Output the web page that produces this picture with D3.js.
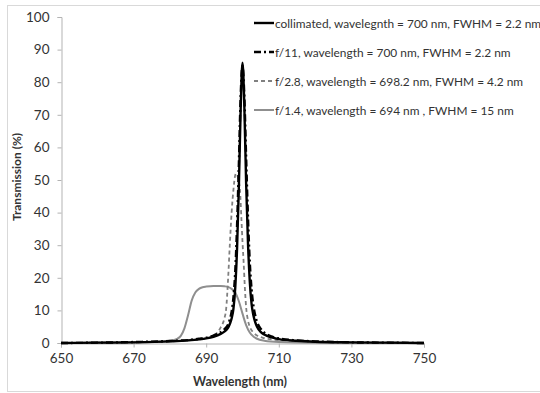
<!DOCTYPE html>
<html>
<head>
<meta charset="utf-8">
<script src="https://cdn.jsdelivr.net/npm/d3@7"></script>
<style>
  html, body { margin: 0; padding: 0; background: #fff; }
  svg { display: block; }
  text { font-family: Lato, "Open Sans", sans-serif; fill: #333; }
</style>
</head>
<body>
<svg id="chart" width="540" height="393"></svg>
<script>
// Transmission spectra (wavelength nm, transmission %)
const collimated = [
  [650,0],[660,0.1],[670,0.2],[680,0.5],[685,0.8],[688,1.1],[690,1.4],[692,1.9],[694,2.8],[695,3.5],
  [696,4.6],[696.5,5.8],[697,7.5],[697.5,10.5],[698,17],[698.5,29],[699,48],[699.5,72],[700,86],
  [700.5,73],[701,49],[701.5,31],[702,19],[702.5,12],[703,8.5],[703.5,6.4],[704,5],[705,3.4],
  [706,2.6],[708,1.7],[710,1.2],[715,0.7],[720,0.4],[730,0.2],[740,0.1],[750,0]
];
const f11 = [
  [650,0],[660,0.1],[670,0.3],[680,0.6],[685,0.9],[688,1.3],[690,1.6],[692,2.3],[694,3.3],[695,4.2],
  [696,5.6],[696.5,7.2],[697,9.6],[697.5,14],[698,22],[698.5,36],[699,55],[699.5,76],[700,85],
  [700.5,76],[701,57],[701.5,39],[702,25],[702.5,16.5],[703,11.5],[703.5,8.5],[704,6.5],[705,4.4],
  [706,3.2],[708,2.0],[710,1.4],[715,0.8],[720,0.5],[730,0.2],[740,0.1],[750,0]
];
const f28 = [
  [650,0],[660,0.1],[670,0.2],[680,0.5],[685,0.8],[688,1.1],[690,1.4],[692,2.3],[693,3.1],[694,4.8],
  [695,7.5],[695.5,10.5],[696,19],[696.5,30],[697,40],[697.5,47],[698,51.5],[698.2,52],[698.7,51],
  [699,49.5],[699.3,47],[699.7,38],[700,31],[700.3,25],[700.7,16],[701,11],[701.5,7],[702,5],
  [703,3.2],[704,2.3],[706,1.5],[710,0.9],[715,0.5],[720,0.3],[730,0.2],[750,0]
];
const f14 = [
  [650,0],[660,0.1],[670,0.2],[675,0.3],[680,0.7],[682,1.3],[683,2.2],[684,4.5],[685,8.5],[686,13],
  [687,15.5],[688,16.6],[689,17.1],[690,17.3],[692,17.5],[694,17.5],[695,17.4],[696,17.2],[697,16.6],
  [698,15.5],[699,12.8],[700,9],[701,5.5],[702,3.2],[703,2],[704,1.3],[706,0.7],[710,0.3],[720,0.1],[750,0]
];

const xTicks = [650, 670, 690, 710, 730, 750];
const yTicks = [0, 10, 20, 30, 40, 50, 60, 70, 80, 90, 100];

const seriesNames = [
  "collimated, wavelegnth = 700 nm, FWHM = 2.2 nm",
  "f/11, wavelength = 700 nm, FWHM = 2.2 nm",
  "f/2.8, wavelength = 698.2 nm, FWHM = 4.2 nm",
  "f/1.4, wavelength = 694 nm , FWHM = 15 nm"
];

const series = [
  { name: seriesNames[0], data: collimated, color: "#000", width: 2.4, dash: null },
  { name: seriesNames[1], data: f11, color: "#000", width: 2.4, dash: "7,3,2,3" },
  { name: seriesNames[2], data: f28, color: "#808080", width: 1.8, dash: "4,3" },
  { name: seriesNames[3], data: f14, color: "#8f8f8f", width: 2.0, dash: null }
];

const svg = d3.select("#chart");

// chart frame
svg.append("rect")
  .attr("x", 7.5).attr("y", 5.5).attr("width", 540).attr("height", 386)
  .attr("fill", "#fff").attr("stroke", "#d9d9d9").attr("stroke-width", 1);

const x = d3.scaleLinear().domain([650, 750]).range([61, 424]);
const y = d3.scaleLinear().domain([0, 100]).range([343, 17]);

const axisColor = "#b3b3b3";

const yAxis = svg.append("g")
  .attr("transform", "translate(61.5,0)")
  .call(d3.axisLeft(y).tickValues(yTicks).tickSize(4).tickPadding(8));
const xAxis = svg.append("g")
  .attr("transform", "translate(0,343.5)")
  .call(d3.axisBottom(x).tickValues(xTicks).tickSize(4).tickPadding(6));

[xAxis, yAxis].forEach(g => {
  g.selectAll("path, line").attr("stroke", axisColor);
  g.selectAll("text")
    .attr("font-family", "Lato, 'Open Sans', sans-serif")
    .attr("font-size", 13.5)
    .attr("fill", "#404040");
});

// axis titles
svg.append("text")
  .attr("x", 240).attr("y", 386)
  .attr("text-anchor", "middle")
  .attr("font-size", 12.5).attr("font-weight", "bold")
  .attr("fill", "#404040")
  .text("Wavelength (nm)");

svg.append("text")
  .attr("transform", "translate(21,177) rotate(-90)")
  .attr("text-anchor", "middle")
  .attr("font-size", 12).attr("font-weight", "bold")
  .attr("fill", "#404040")
  .text("Transmission (%)");

// spectra
const line = d3.line()
  .x(d => x(d[0]))
  .y(d => y(d[1]))
  .curve(d3.curveMonotoneX);

const plot = svg.append("g");
// broadest curves first so the narrow peaks sit on top
[3, 2, 0, 1].forEach(i => {
  const s = series[i];
  plot.append("path")
    .datum(s.data)
    .attr("fill", "none")
    .attr("stroke", s.color)
    .attr("stroke-width", s.width)
    .attr("stroke-dasharray", s.dash)
    .attr("stroke-linejoin", "round")
    .attr("d", line);
});

// legend
const legend = svg.append("g");
const rowY = [23, 52, 81, 110];
series.forEach((s, i) => {
  const g = legend.append("g").attr("transform", `translate(0,${rowY[i]})`);
  g.append("line")
    .attr("x1", 254).attr("x2", 274)
    .attr("stroke", s.color)
    .attr("stroke-width", s.width)
    .attr("stroke-dasharray", s.dash);
  g.append("text")
    .attr("x", 275).attr("y", 4.5)
    .attr("font-size", 11.9)
    .attr("fill", "#404040")
    .text(s.name);
});
</script>
</body>
</html>
